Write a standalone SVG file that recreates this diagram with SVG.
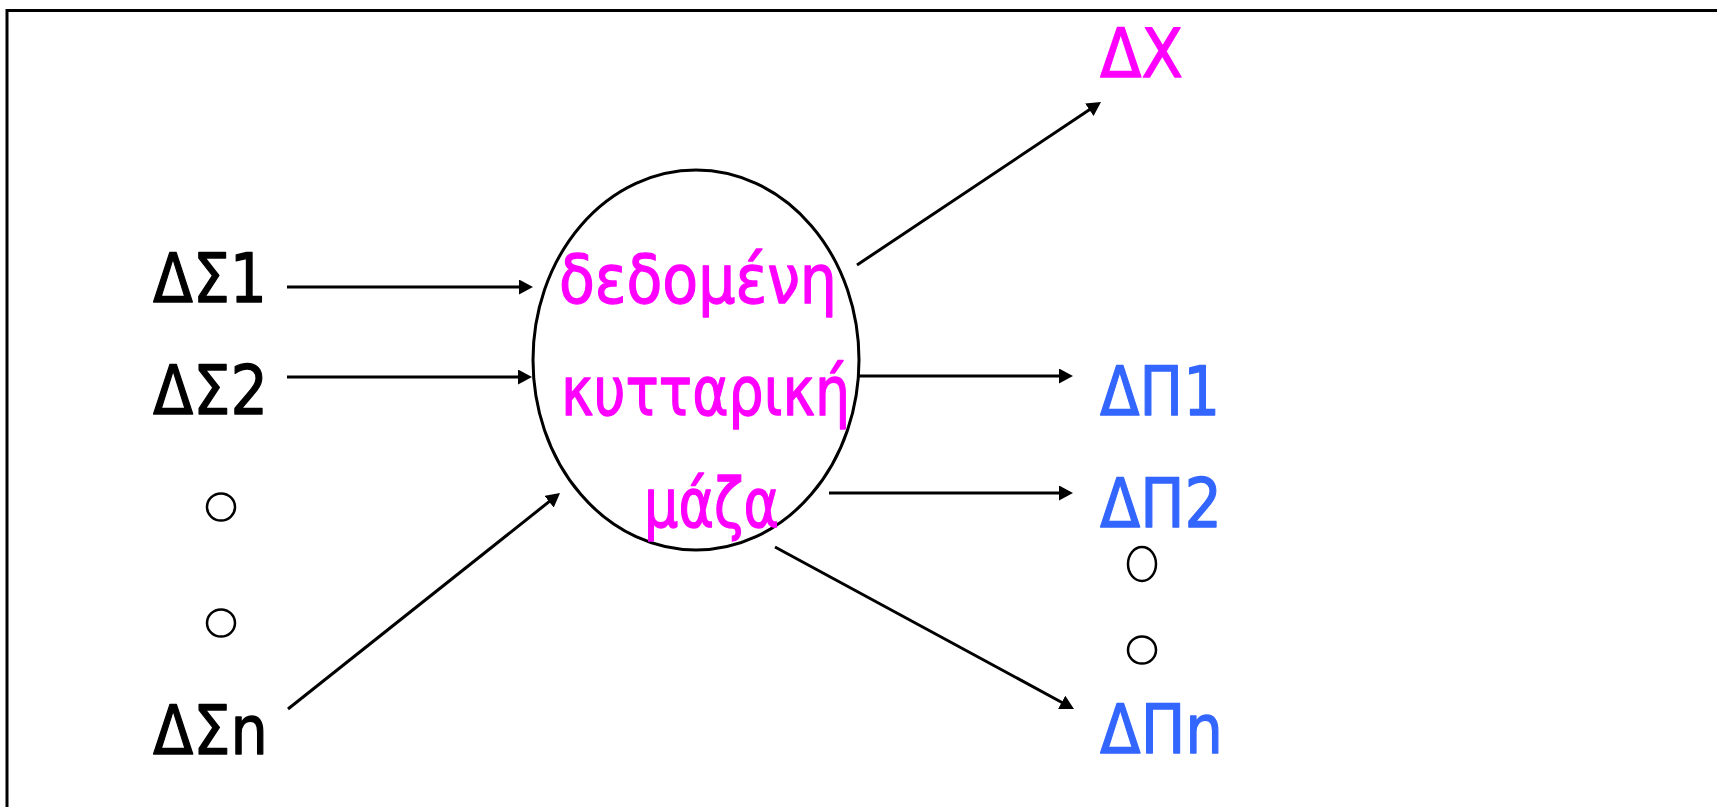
<svg xmlns="http://www.w3.org/2000/svg" width="1717" height="807" viewBox="0 0 1717 807">
  <style>
    .lbl { font-family: "DejaVu Sans", "Liberation Sans", sans-serif; font-size: 67px; stroke-width: 1.3; stroke-linejoin: round; }
    .in { fill: #000000; stroke: #000000; }
    .out { fill: #3366FF; stroke: #3366FF; }
    .mag { fill: #FF00FF; stroke: #FF00FF; }
    .dot { fill: none; stroke: #000000; stroke-width: 2.5; }
    .conn line { stroke: #000000; stroke-width: 3; marker-end: url(#arrow); }
  </style>
  <defs>
    <marker id="arrow" markerUnits="userSpaceOnUse" markerWidth="16" markerHeight="16" refX="4" refY="7.5" orient="auto">
      <path d="M0,0 L14,7.5 L0,15 Z" fill="#000000"/>
    </marker>
  </defs>

  <rect width="1717" height="807" fill="#FFFFFF"/>
  <!-- outer frame, open to the right and bottom -->
  <rect x="7" y="10.5" width="1730" height="820" fill="none" stroke="#000000" stroke-width="3"/>

  <!-- inputs -->
  <g id="in-1"><text class="lbl in" x="153" y="302" textLength="114" lengthAdjust="spacingAndGlyphs">ΔΣ1</text></g>
  <g id="in-2"><text class="lbl in" x="153" y="414" textLength="115" lengthAdjust="spacingAndGlyphs">ΔΣ2</text></g>
  <g id="in-dots">
    <ellipse class="dot" cx="221" cy="507" rx="14" ry="13.5"/>
    <ellipse class="dot" cx="221" cy="623" rx="14" ry="13.5"/>
  </g>
  <g id="in-n"><text class="lbl in" x="153" y="754" textLength="115" lengthAdjust="spacingAndGlyphs">ΔΣn</text></g>

  <!-- central cell mass -->
  <g id="cell">
    <ellipse cx="696" cy="360" rx="163" ry="190" fill="none" stroke="#000000" stroke-width="3"/>
    <text class="lbl mag" x="559" y="303" textLength="278" lengthAdjust="spacingAndGlyphs">δεδομένη</text>
    <text class="lbl mag" x="561" y="415" textLength="289" lengthAdjust="spacingAndGlyphs">κυτταρική</text>
    <text class="lbl mag" x="644" y="527" textLength="135" lengthAdjust="spacingAndGlyphs">μάζα</text>
  </g>

  <!-- outputs -->
  <g id="out-x"><text class="lbl mag" x="1100" y="77" textLength="83" lengthAdjust="spacingAndGlyphs">ΔΧ</text></g>
  <g id="out-1"><text class="lbl out" x="1100" y="415" textLength="120" lengthAdjust="spacingAndGlyphs">ΔΠ1</text></g>
  <g id="out-2"><text class="lbl out" x="1100" y="527" textLength="122" lengthAdjust="spacingAndGlyphs">ΔΠ2</text></g>
  <g id="out-dots">
    <ellipse class="dot" cx="1142" cy="564" rx="14" ry="17"/>
    <ellipse class="dot" cx="1142" cy="650" rx="14" ry="13.5"/>
  </g>
  <g id="out-n"><text class="lbl out" x="1100" y="753" textLength="123" lengthAdjust="spacingAndGlyphs">ΔΠn</text></g>

  <!-- connectors -->
  <g id="connectors" class="conn">
    <line x1="287" y1="287" x2="523" y2="287"/>
    <line x1="287" y1="377" x2="522" y2="377"/>
    <line x1="288" y1="709" x2="552.2" y2="499.2"/>
    <line x1="857" y1="265" x2="1092.7" y2="107.6"/>
    <line x1="858" y1="376" x2="1063" y2="376"/>
    <line x1="829" y1="493" x2="1063" y2="493"/>
    <line x1="775" y1="547" x2="1065.2" y2="704.2"/>
  </g>
</svg>
